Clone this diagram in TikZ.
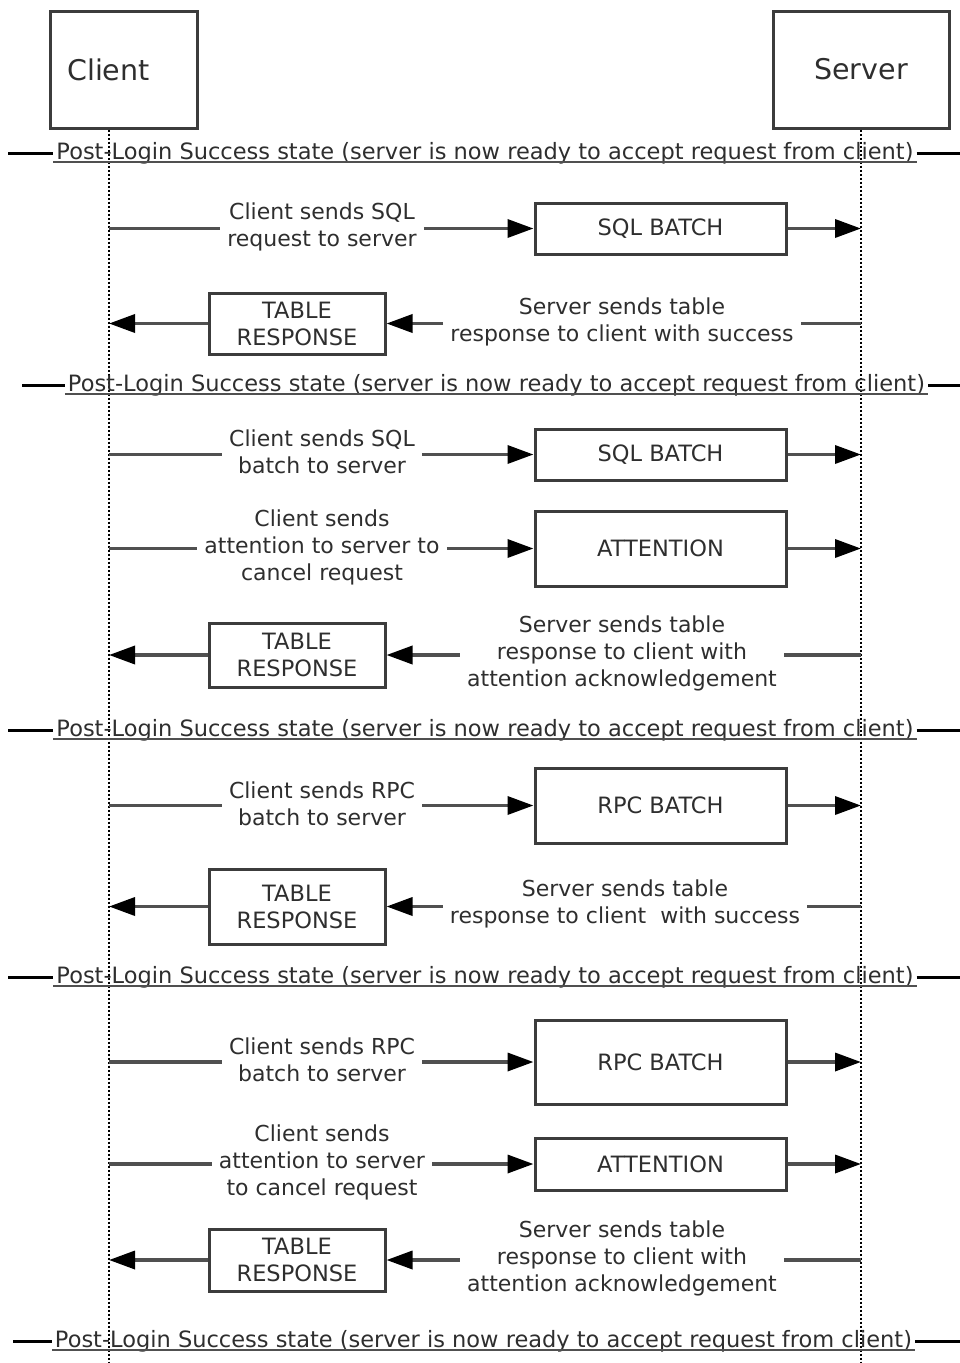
\documentclass[tikz,border=0pt]{standalone}
\usepackage{fontspec}
\setmainfont{DejaVu Sans}
\usetikzlibrary{arrows.meta}

\definecolor{boxgray}{HTML}{3C3C3C}
\definecolor{txtgray}{HTML}{2E2E2E}
\definecolor{linegray}{HTML}{505050}

\begin{document}
\begin{tikzpicture}[x=1pt,y=-1pt,
  every node/.style={text=txtgray},
  actor/.style={draw=boxgray,line width=3pt,minimum height=117pt,font=\fontsize{28.5pt}{32pt}\selectfont},
  pdu/.style={draw=boxgray,line width=3pt,align=center,inner sep=0pt,font=\fontsize{22.5pt}{27pt}\selectfont},
  batchbox/.style={pdu,minimum width=251pt},
  tablebox/.style={pdu,minimum width=176pt},
  note/.style={align=center,inner xsep=7pt,inner ysep=0pt,font=\fontsize{22pt}{27pt}\selectfont},
  state/.style={anchor=base,inner xsep=3pt,inner ysep=0pt,font=\fontsize{22.5pt}{26pt}\selectfont},
  lifeline/.style={black,line width=2pt,dash pattern=on 2pt off 2pt},
  wire/.style={linegray,line width=3.5pt},
  msg/.style={wire,-{Triangle[length=26pt,width=18pt,color=black]}},
  stateline/.style={black,line width=3pt}]
  \useasboundingbox (0,0) rectangle (960,1363);

  \node[actor,minimum width=147pt,label={[font=\fontsize{28.5pt}{32pt}\selectfont,text=txtgray,xshift=-15pt]center:Client}] (client) at (123.5,69.5) {};
  \node[actor,minimum width=176pt] (server) at (861,69.5) {Server};
  \coordinate (cbot) at (109,1363);
  \coordinate (sbot) at (861,1363);
  \draw[lifeline] (client.south -| cbot) -- (cbot);
  \draw[lifeline] (server.south) -- (sbot);

  \foreach \i/\x/\y/\l in {1/485/159/8, 2/496.5/391/22, 3/485/736/8, 4/485/983/8, 5/483.5/1347/13} {
    \node[state] (s\i) at (\x,\y) {Post-Login Success state (server is now ready to accept request from client)};
    \coordinate (sl\i) at (\l,\y-6);
    \coordinate (sr\i) at (960,\y-6);
    \draw[stateline] (sl\i) -- (sl\i -| s\i.west);
    \draw[stateline] (s\i.east |- sr\i) -- (sr\i);
    \draw[linegray,line width=1.5pt] ([yshift=-3pt]s\i.base west) -- ([yshift=-3pt]s\i.base east);
  }

  % SQL batch
  \node[note] (m1) at (322,227) {Client sends SQL\\request to server};
  \node[batchbox,minimum height=51pt] (b1) at (660.5,228.5) {SQL BATCH};
  \draw[wire] (b1.west -| cbot) -- (b1.west -| m1.west);
  \draw[msg] (b1.west -| m1.east) -- (b1.west);
  \draw[msg] (b1.east) -- (b1.east -| sbot);

  \node[note] (m2) at (622,322) {Server sends table\\response to client with success};
  \node[tablebox,minimum height=61pt] (b2) at (297,323.5) {TABLE\\RESPONSE};
  \draw[wire] (b2.east -| sbot) -- (b2.east -| m2.east);
  \draw[msg] (b2.east -| m2.west) -- (b2.east);
  \draw[msg] (b2.west) -- (b2.west -| cbot);

  % SQL batch with attention
  \node[note] (m3) at (322,452) {Client sends SQL\\batch to server};
  \node[batchbox,minimum height=51pt] (b3) at (660.5,454.5) {SQL BATCH};
  \draw[wire] (b3.west -| cbot) -- (b3.west -| m3.west);
  \draw[msg] (b3.west -| m3.east) -- (b3.west);
  \draw[msg] (b3.east) -- (b3.east -| sbot);

  \node[note] (m4) at (322,547) {Client sends\\attention to server to\\cancel request};
  \node[batchbox,minimum height=75pt] (b4) at (660.5,548.5) {ATTENTION};
  \draw[wire] (b4.west -| cbot) -- (b4.west -| m4.west);
  \draw[msg] (b4.west -| m4.east) -- (b4.west);
  \draw[msg] (b4.east) -- (b4.east -| sbot);

  \node[note] (m5) at (622,653) {Server sends table\\response to client with\\attention acknowledgement};
  \node[tablebox,minimum height=64pt] (b5) at (297,655) {TABLE\\RESPONSE};
  \draw[wire] (b5.east -| sbot) -- (b5.east -| m5.east);
  \draw[msg] (b5.east -| m5.west) -- (b5.east);
  \draw[msg] (b5.west) -- (b5.west -| cbot);

  % RPC batch
  \node[note] (m6) at (322,804) {Client sends RPC\\batch to server};
  \node[batchbox,minimum height=75pt] (b6) at (660.5,805.5) {RPC BATCH};
  \draw[wire] (b6.west -| cbot) -- (b6.west -| m6.west);
  \draw[msg] (b6.west -| m6.east) -- (b6.west);
  \draw[msg] (b6.east) -- (b6.east -| sbot);

  \node[note] (m7) at (625,904) {Server sends table\\response to client\ \ with success};
  \node[tablebox,minimum height=75pt] (b7) at (297,906.5) {TABLE\\RESPONSE};
  \draw[wire] (b7.east -| sbot) -- (b7.east -| m7.east);
  \draw[msg] (b7.east -| m7.west) -- (b7.east);
  \draw[msg] (b7.west) -- (b7.west -| cbot);

  % RPC batch with attention
  \node[note] (m8) at (322,1060) {Client sends RPC\\batch to server};
  \node[batchbox,minimum height=84pt] (b8) at (660.5,1062) {RPC BATCH};
  \draw[wire] (b8.west -| cbot) -- (b8.west -| m8.west);
  \draw[msg] (b8.west -| m8.east) -- (b8.west);
  \draw[msg] (b8.east) -- (b8.east -| sbot);

  \node[note] (m9) at (322,1162) {Client sends\\attention to server\\to cancel request};
  \node[batchbox,minimum height=52pt] (b9) at (660.5,1164) {ATTENTION};
  \draw[wire] (b9.west -| cbot) -- (b9.west -| m9.west);
  \draw[msg] (b9.west -| m9.east) -- (b9.west);
  \draw[msg] (b9.east) -- (b9.east -| sbot);

  \node[note] (m10) at (622,1258) {Server sends table\\response to client with\\attention acknowledgement};
  \node[tablebox,minimum height=62pt] (b10) at (297,1260) {TABLE\\RESPONSE};
  \draw[wire] (b10.east -| sbot) -- (b10.east -| m10.east);
  \draw[msg] (b10.east -| m10.west) -- (b10.east);
  \draw[msg] (b10.west) -- (b10.west -| cbot);
\end{tikzpicture}
\end{document}
